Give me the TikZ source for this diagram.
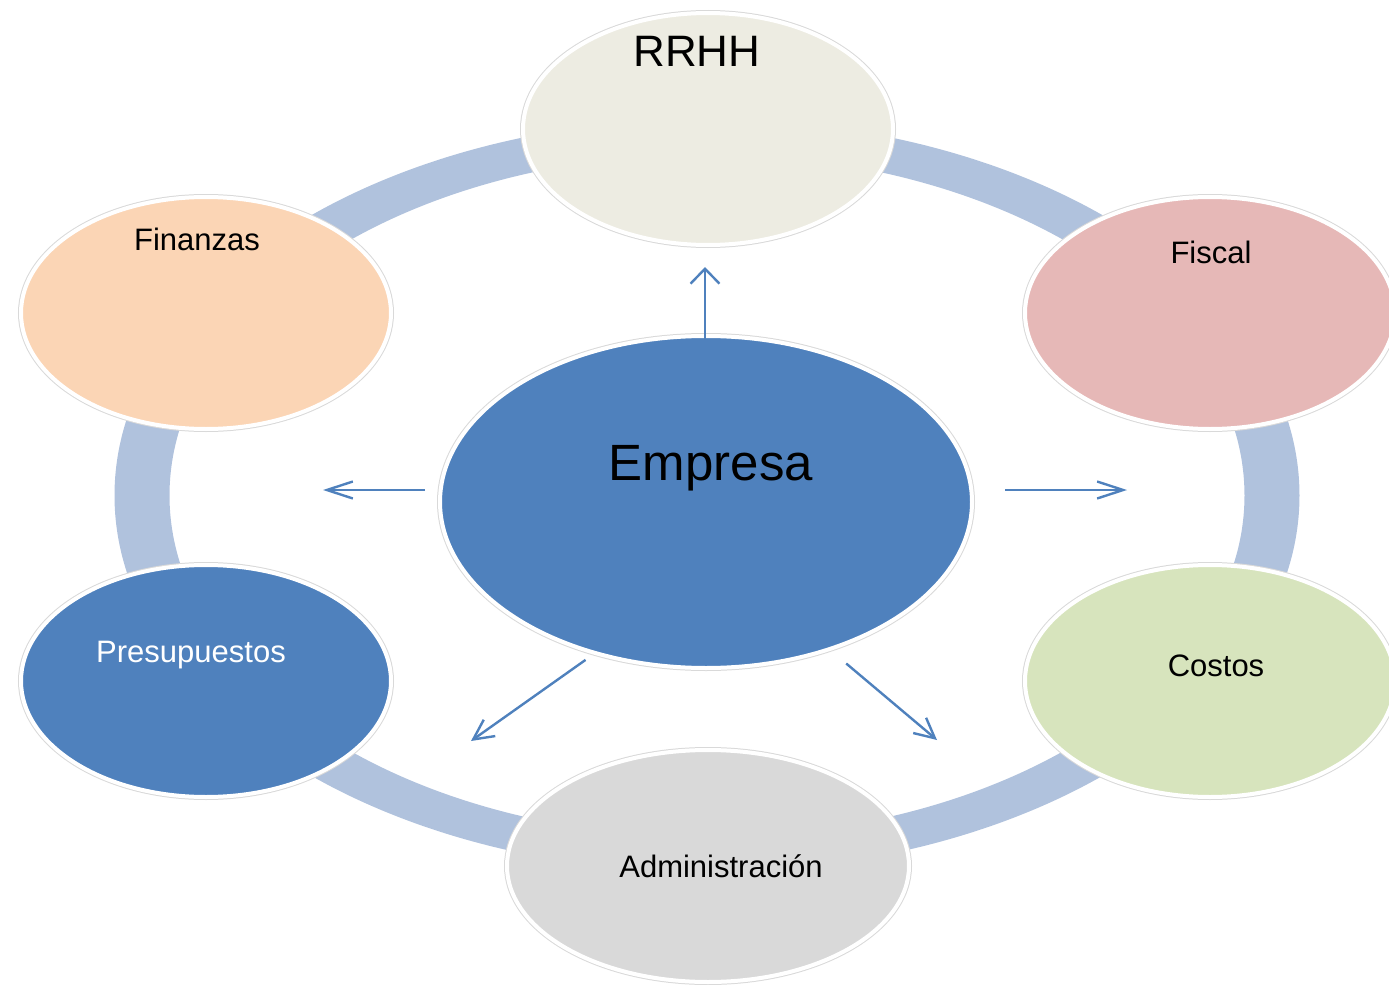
\documentclass[tikz,border=0pt]{standalone}
\usepackage{fontspec}
\setmainfont{Liberation Sans}
\usetikzlibrary{shapes.geometric,arrows.meta}
\definecolor{EmpBlue}{HTML}{4F81BD}
\definecolor{EmpRing}{HTML}{B0C2DD}
\definecolor{EmpBeige}{HTML}{EDECE2}
\definecolor{EmpPeach}{HTML}{FBD5B5}
\definecolor{EmpRose}{HTML}{E6B8B7}
\definecolor{EmpGreen}{HTML}{D7E4BD}
\definecolor{EmpGray}{HTML}{D9D9D9}

\begin{document}
\begin{tikzpicture}[x=0.5pt,y=-0.5pt,>={Straight Barb[length=13pt,width=8.5pt]}]
  \tikzstyle{area}=[ellipse,draw=white,line width=2pt,inner sep=0pt,
    minimum width=185pt,minimum height=116pt,
    preaction={draw=black!15,line width=3pt}]
  \tikzstyle{etiq}=[anchor=base,inner sep=0pt,font=\fontsize{15.5}{18}\selectfont]
  \tikzstyle{flecha}=[->,line width=1.2pt,color=EmpBlue]
  \useasboundingbox (0,0) rectangle (1389,985);
  \fill[EmpRing,even odd rule]
    (707,495.5) ellipse [x radius=296.25pt,y radius=188.25pt]
    (707,495.5) ellipse [x radius=268.75pt,y radius=170.75pt];
  \node[area,fill=EmpBeige] (rrhh) at (708,129) {};
  \node[area,fill=EmpPeach] (finanzas) at (206,313) {};
  \node[area,fill=EmpRose] (fiscal) at (1210,313) {};
  \node[area,fill=EmpBlue] (presupuestos) at (206,681) {};
  \node[area,fill=EmpGreen] (costos) at (1210,681) {};
  \node[area,fill=EmpGray,minimum width=201pt] (admin) at (708,866) {};
  \node[area,fill=EmpBlue,minimum width=266pt,minimum height=166pt] (empresa) at (706,502) {};
  \node[etiq,font=\fontsize{22}{26}\selectfont] (t-rrhh) at ([xshift=-5.5pt,yshift=31pt]rrhh.center) {RRHH};
  \node[etiq] (t-finanzas) at ([xshift=-4.5pt,yshift=31.5pt]finanzas.center) {Finanzas};
  \node[etiq] (t-fiscal) at ([xshift=0.5pt,yshift=25pt]fiscal.center) {Fiscal};
  \node[etiq,text=white] (t-presupuestos) at ([xshift=-7.5pt,yshift=9.5pt]presupuestos.center) {Presupuestos};
  \node[etiq] (t-costos) at ([xshift=3pt,yshift=2.5pt]costos.center) {Costos};
  \node[etiq] (t-admin) at ([xshift=6.5pt,yshift=-5.5pt]admin.center) {Administración};
  \node[etiq,font=\fontsize{25.5}{30}\selectfont] (t-empresa) at ([xshift=2.5pt,yshift=11pt]empresa.center) {Empresa};
  \coordinate (p-up) at (705,267);
  \coordinate (p-izq) at (323,490);
  \coordinate (p-der) at (1127,490);
  \coordinate (p-aizq) at (471,741);
  \coordinate (p-ader) at (937,740);
  \draw[flecha,-{Straight Barb[length=7.5pt,width=14.5pt]}] ([xshift=-0.5pt,yshift=-4pt]empresa.north) -- (p-up);
  \draw[flecha] ([xshift=-6.5pt,yshift=6pt]empresa.west) -- (p-izq);
  \draw[flecha] ([xshift=15.5pt,yshift=6pt]empresa.east) -- (p-der);
  \draw[flecha,-{Straight Barb[length=10pt,width=10pt]}] ([shift={(-3pt,-3pt)}]empresa.233) -- (p-aizq);
  \draw[flecha,-{Straight Barb[length=10pt,width=10pt]}] ([shift={(6pt,-7pt)}]empresa.311) -- (p-ader);
\end{tikzpicture}
\end{document}
